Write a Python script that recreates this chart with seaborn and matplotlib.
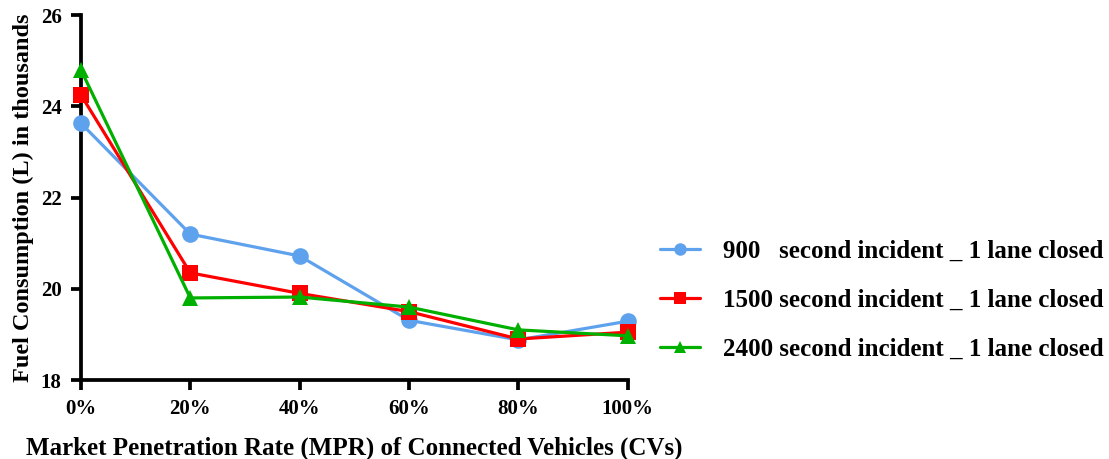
import matplotlib
matplotlib.use("Agg")
import matplotlib.pyplot as plt
import seaborn as sns
import pandas as pd

mpr_labels = ["0%", "20%", "40%", "60%", "80%", "100%"]
mpr_values = [0, 20, 40, 60, 80, 100]
series_names = ["900   second incident _ 1 lane closed",
                "1500 second incident _ 1 lane closed",
                "2400 second incident _ 1 lane closed"]
fuel_900 = [23.63, 21.2, 20.72, 19.31, 18.88, 19.29]
fuel_1500 = [24.25, 20.35, 19.9, 19.5, 18.9, 19.05]
fuel_2400 = [24.8, 19.8, 19.82, 19.6, 19.1, 18.97]
y_ticks = [18, 20, 22, 24, 26]

rows = []
for name, vals in zip(series_names, [fuel_900, fuel_1500, fuel_2400]):
    for x, v in zip(mpr_values, vals):
        rows.append({"MPR": x, "Fuel": v, "Series": name})
df = pd.DataFrame(rows)

sns.set_theme(style="ticks")
plt.rcParams['font.family'] = ['Liberation Serif', 'DejaVu Serif']
plt.rcParams['font.weight'] = 'bold'
plt.rcParams['text.color'] = 'black'
plt.rcParams['axes.labelcolor'] = 'black'
plt.rcParams['xtick.color'] = 'black'
plt.rcParams['ytick.color'] = 'black'

fig = plt.figure(figsize=(11.09, 4.59), dpi=100)
ax = fig.add_axes([0.073, 0.172, 0.493, 0.795])

palette = {series_names[0]: "#5ea2ee", series_names[1]: "#ff0000", series_names[2]: "#00b000"}
sns.lineplot(data=df, x="MPR", y="Fuel", hue="Series", style="Series",
             markers=["o", "s", "^"], dashes=False, palette=palette,
             linewidth=2.3, markersize=12, markeredgewidth=0, ax=ax,
             hue_order=series_names, style_order=series_names)

ax.set_xlim(0, 100)
ax.set_ylim(18, 26)
ax.set_xticks(mpr_values)
ax.set_xticklabels(mpr_labels)
ax.set_yticks(y_ticks)
for s in ["top", "right"]:
    ax.spines[s].set_visible(False)
for s in ["left", "bottom"]:
    ax.spines[s].set_linewidth(2.7)
    ax.spines[s].set_color("black")
    ax.spines[s].set_zorder(0)
ax.tick_params(axis="both", width=2.7, length=7, color="black",
               labelcolor="black", labelsize=15, pad=7)
for lab in ax.get_xticklabels() + ax.get_yticklabels():
    lab.set_fontweight("bold")
ax.set_xlabel("Market Penetration Rate (MPR) of Connected Vehicles (CVs)",
              fontsize=18, fontweight="bold", labelpad=12, color="black")
ax.set_ylabel("Fuel Consumption (L) in thousands", fontsize=17.5,
              fontweight="bold", labelpad=5, color="black")
for line in ax.get_lines():
    line.set_clip_on(False)

handles, labels = ax.get_legend_handles_labels()
for h in handles:
    h.set_markersize(9)
ax.get_legend().remove()
fig.legend(handles, labels, loc="center left", bbox_to_anchor=(0.575, 0.346),
           frameon=False, prop={"size": 18, "weight": "bold"},
           handlelength=1.6, labelspacing=1.05, handletextpad=0.9,
           labelcolor="black")

fig.savefig("out.png", dpi=100)
